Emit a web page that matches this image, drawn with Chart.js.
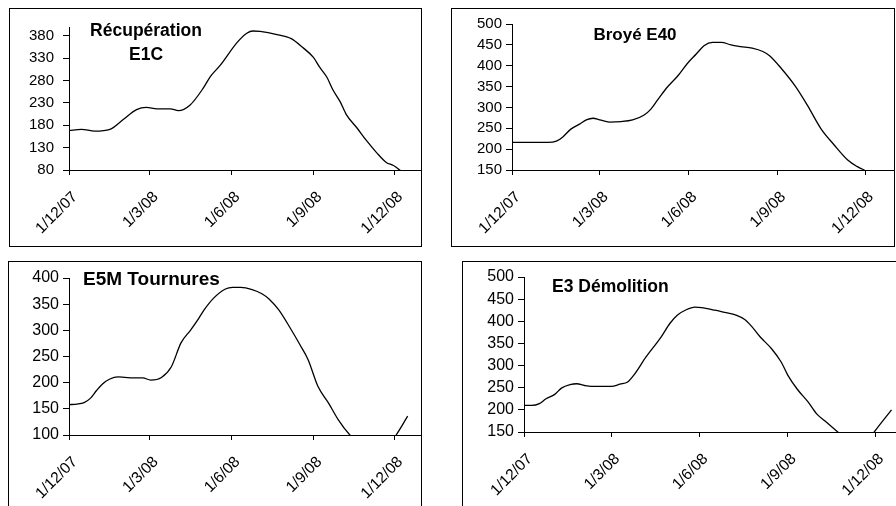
<!DOCTYPE html>
<html>
<head>
<meta charset="utf-8">
<script src="https://cdn.jsdelivr.net/npm/chart.js@4.4.1/dist/chart.umd.min.js"></script>
<style>
  html, body { margin: 0; padding: 0; background: #fff; width: 896px; height: 506px; overflow: hidden; }
  .panel { position: absolute; box-sizing: border-box; border: 1px solid #000; background: #fff; overflow: hidden; }
  .panel canvas { position: absolute; left: 0; top: 0; }
</style>
</head>
<body>
<div class="panel" style="left:9px;top:8px;width:413px;height:239px"><canvas id="c1" width="411" height="237"></canvas></div>
<div class="panel" style="left:451px;top:8px;width:444px;height:239px"><canvas id="c2" width="442" height="237"></canvas></div>
<div class="panel" style="left:8px;top:261px;width:414px;height:260px"><canvas id="c3" width="412" height="258"></canvas></div>
<div class="panel" style="left:462px;top:261px;width:460px;height:260px"><canvas id="c4" width="458" height="258"></canvas></div>
<script>
// days counted from 1/12/07
const xTickDays = [0, 91, 183, 275, 366];
const xTickLabels = ['1/12/07', '1/3/08', '1/6/08', '1/9/08', '1/12/08'];

const recupDays = [0, 14, 29, 46, 61, 76, 87, 99, 114, 123, 136, 151, 159, 170, 189, 200, 207, 215, 234, 250, 263, 275, 282, 290, 297, 305, 312, 324, 335, 346, 357, 365, 372, 385];
const recupValues = [168, 171, 167, 171, 193, 215, 220, 217, 217, 213, 225, 263, 289, 314, 365, 386, 391, 390, 383, 374, 354, 332, 310, 288, 259, 233, 204, 174, 145, 119, 97, 90, 80, 62];
const recupTicks = [80, 130, 180, 230, 280, 330, 380];

const broyeDays = [0, 20, 37, 46, 53, 61, 70, 77, 84, 91, 101, 113, 125, 137, 144, 151, 160, 172, 182, 191, 199, 208, 217, 227, 237, 249, 260, 267, 279, 294, 306, 320, 334, 348, 358, 365, 374];
const broyeValues = [216, 216, 216, 219, 230, 248, 260, 270, 274, 270, 265, 266, 270, 282, 296, 318, 346, 376, 406, 428, 448, 456, 456, 450, 446, 442, 434, 424, 394, 350, 306, 250, 210, 174, 158, 150, 135];
const broyeTicks = [150, 200, 250, 300, 350, 400, 450, 500];

const tournDays = [0, 9, 17, 24, 31, 38, 46, 55, 63, 72, 83, 92, 104, 115, 126, 137, 146, 152, 163, 176, 184, 193, 206, 217, 225, 236, 249, 260, 269, 280, 292, 303, 316, 329, 344, 357, 368, 381];
const tournValues = [158, 159, 162, 170, 185, 198, 207, 211, 210, 209, 209, 205, 210, 230, 276, 301, 323, 339, 362, 379, 382, 382, 378, 370, 360, 339, 304, 272, 244, 193, 161, 129, 100, 80, 68, 76, 100, 136];
const tournTicks = [100, 150, 200, 250, 300, 350, 400];

const demolDays = [0, 8, 16, 23, 32, 39, 48, 55, 63, 70, 81, 91, 100, 108, 115, 127, 143, 152, 160, 169, 178, 185, 199, 209, 221, 230, 237, 246, 258, 268, 275, 285, 296, 305, 313, 327, 338, 350, 358, 365, 383];
const demolValues = [210, 210, 214, 225, 235, 249, 257, 259, 255, 253, 253, 253, 258, 263, 280, 319, 365, 395, 414, 426, 432, 431, 425, 420, 414, 404, 389, 365, 338, 308, 278, 246, 218, 191, 176, 150, 130, 115, 128, 150, 200];
const demolTicks = [150, 200, 250, 300, 350, 400, 450, 500];

Chart.defaults.font.family = '"Liberation Sans", Arial, sans-serif';
Chart.defaults.color = '#000';

function titlePlugin(lines, x, y, gap, size, align) {
  return {
    id: 'panelTitle',
    afterDraw(chart) {
      const ctx = chart.ctx;
      ctx.save();
      ctx.font = 'bold ' + size + 'px "Liberation Sans", Arial, sans-serif';
      ctx.fillStyle = '#000';
      ctx.textAlign = align;
      ctx.textBaseline = 'alphabetic';
      lines.forEach((line, i) => ctx.fillText(line, x, y + i * gap));
      ctx.restore();
    }
  };
}

function makeChart(id, days, values, yTicks, yMin, yMax, box, title) {
  const ctx = document.getElementById(id).getContext('2d');
  new Chart(ctx, {
    type: 'line',
    data: {
      datasets: [{
        data: days.map((d, i) => ({ x: d, y: values[i] })),
        borderColor: '#000',
        borderWidth: 1.3,
        pointRadius: 0,
        fill: false,
        cubicInterpolationMode: 'monotone'
      }]
    },
    options: {
      responsive: false,
      animation: false,
      events: [],
      layout: { padding: { top: box.top, right: box.right, left: 0, bottom: 0 } },
      plugins: { legend: { display: false }, tooltip: { enabled: false } },
      scales: {
        x: {
          type: 'linear',
          min: 0,
          max: 396,
          afterBuildTicks: scale => { scale.ticks = xTickDays.map(v => ({ value: v })); },
          afterFit: scale => { scale.height = box.xHeight; },
          grid: { drawOnChartArea: false, tickLength: 5, color: '#000' },
          border: { color: '#000', width: 1 },
          ticks: {
            autoSkip: false,
            minRotation: 45,
            maxRotation: 45,
            padding: 13,
            labelOffset: 6,
            font: { size: 15.5 },
            callback: (v, i) => xTickLabels[i]
          }
        },
        y: {
          min: yMin,
          max: yMax,
          afterBuildTicks: scale => { scale.ticks = yTicks.map(v => ({ value: v })); },
          afterFit: scale => { scale.width = box.yWidth; },
          grid: { drawOnChartArea: false, tickLength: 6, color: '#000' },
          border: { color: '#000', width: 1 },
          ticks: { autoSkip: false, padding: box.tickPad, font: { size: box.yFont } }
        }
      }
    },
    plugins: [titlePlugin(title.lines, title.x, title.y, title.gap, title.size, title.align)]
  });
}

makeChart('c1', recupDays, recupValues, recupTicks, 80, 400,
  { top: 15, right: 0, xHeight: 76, yWidth: 59, tickPad: 9, yFont: 15 },
  { lines: ['Récupération', 'E1C'], x: 136, y: 27, gap: 24, size: 17.5, align: 'center' });

makeChart('c2', broyeDays, broyeValues, broyeTicks, 150, 500,
  { top: 15, right: 0, xHeight: 76, yWidth: 60, tickPad: 4, yFont: 15 },
  { lines: ['Broyé E40'], x: 183, y: 31, gap: 0, size: 17, align: 'center' });

makeChart('c3', tournDays, tournValues, tournTicks, 100, 400,
  { top: 16, right: 0, xHeight: 85, yWidth: 60, tickPad: 4, yFont: 16 },
  { lines: ['E5M Tournures'], x: 74, y: 23, gap: 0, size: 19, align: 'left' });

makeChart('c4', demolDays, demolValues, demolTicks, 150, 500,
  { top: 15, right: 17, xHeight: 88, yWidth: 61, tickPad: 4, yFont: 16 },
  { lines: ['E3 Démolition'], x: 89, y: 30, gap: 0, size: 17.5, align: 'left' });
</script>
</body>
</html>
